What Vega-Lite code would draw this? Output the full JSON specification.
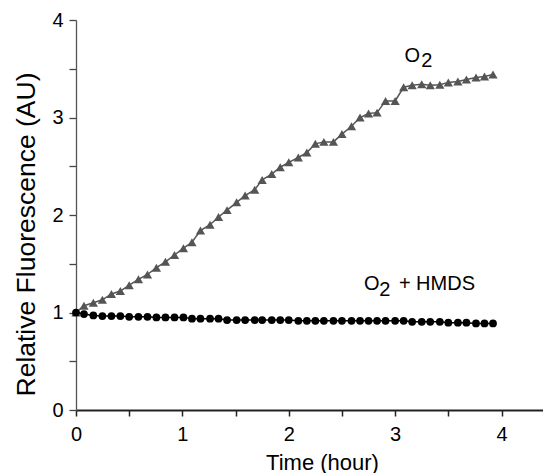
{
  "$schema": "https://vega.github.io/schema/vega-lite/v6.json",
  "width": 467,
  "height": 390,
  "autosize": "none",
  "padding": {"left": 76, "top": 20, "right": 0, "bottom": 63},
  "background": "white",
  "config": {
    "view": {"stroke": null},
    "font": "Liberation Sans"
  },
  "datasets": {
    "series": [
      {"series": "O2", "t": 0.0, "v": 1.0},
      {"series": "O2", "t": 0.075, "v": 1.07},
      {"series": "O2", "t": 0.163, "v": 1.10},
      {"series": "O2", "t": 0.248, "v": 1.13},
      {"series": "O2", "t": 0.333, "v": 1.19},
      {"series": "O2", "t": 0.417, "v": 1.22},
      {"series": "O2", "t": 0.50, "v": 1.28},
      {"series": "O2", "t": 0.587, "v": 1.34},
      {"series": "O2", "t": 0.672, "v": 1.39},
      {"series": "O2", "t": 0.756, "v": 1.46},
      {"series": "O2", "t": 0.841, "v": 1.52},
      {"series": "O2", "t": 0.926, "v": 1.59},
      {"series": "O2", "t": 1.01, "v": 1.66},
      {"series": "O2", "t": 1.09, "v": 1.72},
      {"series": "O2", "t": 1.17, "v": 1.84},
      {"series": "O2", "t": 1.26, "v": 1.90},
      {"series": "O2", "t": 1.34, "v": 1.98},
      {"series": "O2", "t": 1.42, "v": 2.05},
      {"series": "O2", "t": 1.51, "v": 2.13},
      {"series": "O2", "t": 1.59, "v": 2.20},
      {"series": "O2", "t": 1.68, "v": 2.26},
      {"series": "O2", "t": 1.75, "v": 2.36},
      {"series": "O2", "t": 1.84, "v": 2.42},
      {"series": "O2", "t": 1.92, "v": 2.49},
      {"series": "O2", "t": 2.00, "v": 2.54},
      {"series": "O2", "t": 2.09, "v": 2.59},
      {"series": "O2", "t": 2.17, "v": 2.64},
      {"series": "O2", "t": 2.25, "v": 2.73},
      {"series": "O2", "t": 2.33, "v": 2.75},
      {"series": "O2", "t": 2.42, "v": 2.75},
      {"series": "O2", "t": 2.50, "v": 2.83},
      {"series": "O2", "t": 2.59, "v": 2.91},
      {"series": "O2", "t": 2.67, "v": 3.00},
      {"series": "O2", "t": 2.75, "v": 3.04},
      {"series": "O2", "t": 2.83, "v": 3.05},
      {"series": "O2", "t": 2.91, "v": 3.17},
      {"series": "O2", "t": 3.00, "v": 3.17},
      {"series": "O2", "t": 3.08, "v": 3.31},
      {"series": "O2", "t": 3.16, "v": 3.33},
      {"series": "O2", "t": 3.25, "v": 3.34},
      {"series": "O2", "t": 3.33, "v": 3.33},
      {"series": "O2", "t": 3.42, "v": 3.335},
      {"series": "O2", "t": 3.50, "v": 3.36},
      {"series": "O2", "t": 3.59, "v": 3.37},
      {"series": "O2", "t": 3.67, "v": 3.39},
      {"series": "O2", "t": 3.76, "v": 3.41},
      {"series": "O2", "t": 3.84, "v": 3.42},
      {"series": "O2", "t": 3.92, "v": 3.44},
      {"series": "O2 + HMDS", "t": 0.0, "v": 1.0},
      {"series": "O2 + HMDS", "t": 0.075, "v": 0.984},
      {"series": "O2 + HMDS", "t": 0.163, "v": 0.97},
      {"series": "O2 + HMDS", "t": 0.248, "v": 0.963},
      {"series": "O2 + HMDS", "t": 0.333, "v": 0.963},
      {"series": "O2 + HMDS", "t": 0.417, "v": 0.963},
      {"series": "O2 + HMDS", "t": 0.50, "v": 0.956},
      {"series": "O2 + HMDS", "t": 0.587, "v": 0.956},
      {"series": "O2 + HMDS", "t": 0.672, "v": 0.956},
      {"series": "O2 + HMDS", "t": 0.756, "v": 0.95},
      {"series": "O2 + HMDS", "t": 0.841, "v": 0.95},
      {"series": "O2 + HMDS", "t": 0.926, "v": 0.95},
      {"series": "O2 + HMDS", "t": 1.01, "v": 0.95},
      {"series": "O2 + HMDS", "t": 1.09, "v": 0.936},
      {"series": "O2 + HMDS", "t": 1.17, "v": 0.936},
      {"series": "O2 + HMDS", "t": 1.26, "v": 0.936},
      {"series": "O2 + HMDS", "t": 1.34, "v": 0.936},
      {"series": "O2 + HMDS", "t": 1.42, "v": 0.922},
      {"series": "O2 + HMDS", "t": 1.51, "v": 0.922},
      {"series": "O2 + HMDS", "t": 1.59, "v": 0.922},
      {"series": "O2 + HMDS", "t": 1.68, "v": 0.922},
      {"series": "O2 + HMDS", "t": 1.75, "v": 0.922},
      {"series": "O2 + HMDS", "t": 1.84, "v": 0.922},
      {"series": "O2 + HMDS", "t": 1.92, "v": 0.922},
      {"series": "O2 + HMDS", "t": 2.00, "v": 0.922},
      {"series": "O2 + HMDS", "t": 2.09, "v": 0.915},
      {"series": "O2 + HMDS", "t": 2.17, "v": 0.915},
      {"series": "O2 + HMDS", "t": 2.25, "v": 0.915},
      {"series": "O2 + HMDS", "t": 2.33, "v": 0.915},
      {"series": "O2 + HMDS", "t": 2.42, "v": 0.915},
      {"series": "O2 + HMDS", "t": 2.50, "v": 0.915},
      {"series": "O2 + HMDS", "t": 2.59, "v": 0.915},
      {"series": "O2 + HMDS", "t": 2.67, "v": 0.915},
      {"series": "O2 + HMDS", "t": 2.75, "v": 0.915},
      {"series": "O2 + HMDS", "t": 2.83, "v": 0.915},
      {"series": "O2 + HMDS", "t": 2.91, "v": 0.915},
      {"series": "O2 + HMDS", "t": 3.00, "v": 0.915},
      {"series": "O2 + HMDS", "t": 3.08, "v": 0.915},
      {"series": "O2 + HMDS", "t": 3.16, "v": 0.905},
      {"series": "O2 + HMDS", "t": 3.25, "v": 0.905},
      {"series": "O2 + HMDS", "t": 3.33, "v": 0.905},
      {"series": "O2 + HMDS", "t": 3.42, "v": 0.905},
      {"series": "O2 + HMDS", "t": 3.50, "v": 0.895},
      {"series": "O2 + HMDS", "t": 3.59, "v": 0.895},
      {"series": "O2 + HMDS", "t": 3.67, "v": 0.895},
      {"series": "O2 + HMDS", "t": 3.76, "v": 0.888},
      {"series": "O2 + HMDS", "t": 3.84, "v": 0.888},
      {"series": "O2 + HMDS", "t": 3.92, "v": 0.888}
    ],
    "labels": [
      {"label": "O", "t": 3.161, "v": 3.572},
      {"label": "2", "t": 3.297, "v": 3.521},
      {"label": "O", "t": 2.78, "v": 1.231},
      {"label": "2", "t": 2.904, "v": 1.172},
      {"label": "+ HMDS", "t": 3.393, "v": 1.231}
    ]
  },
  "encoding": {
    "x": {
      "field": "t",
      "type": "quantitative",
      "scale": {"domain": [0, 4.39], "nice": false, "zero": false},
      "axis": {
        "title": "Time (hour)",
        "values": [0, 0.5, 1, 1.5, 2, 2.5, 3, 3.5, 4],
        "labelExpr": "datum.value % 1 === 0 ? format(datum.value, 'd') : ''",
        "tickSize": 6,
        "tickColor": "#222222",
        "tickWidth": 1.5,
        "domainColor": "#222222",
        "domainWidth": 1.8,
        "labelFontSize": 20,
        "labelColor": "black",
        "labelPadding": 8,
        "labelFlush": false,
        "labelOverlap": false,
        "grid": false,
        "titleFontSize": 22,
        "titleFontWeight": "normal",
        "titleColor": "black",
        "titleX": 246,
        "titleY": 59,
        "titleBaseline": "alphabetic",
        "titleAlign": "center",
        "encode": {
          "ticks": {"update": {"y2": {"signal": "datum.value % 1 ? 4 : 6"}}}
        }
      }
    },
    "y": {
      "field": "v",
      "type": "quantitative",
      "scale": {"domain": [0, 4], "nice": false},
      "axis": {
        "title": "Relative Fluorescence (AU)",
        "values": [0, 0.5, 1, 1.5, 2, 2.5, 3, 3.5, 4],
        "labelExpr": "datum.value % 1 === 0 ? format(datum.value, 'd') : ''",
        "tickSize": 7,
        "tickColor": "#444444",
        "tickWidth": 1.3,
        "domainColor": "#555555",
        "domainWidth": 1.3,
        "labelFontSize": 20,
        "labelColor": "black",
        "labelPadding": 6,
        "labelFlush": false,
        "labelOverlap": false,
        "grid": false,
        "titleFontSize": 26.5,
        "titleFontWeight": "normal",
        "titleColor": "black",
        "titleAngle": -90,
        "titleX": -42,
        "titleY": 214,
        "titleBaseline": "alphabetic",
        "titleAlign": "center",
        "encode": {
          "ticks": {"update": {"x2": {"signal": "datum.value % 1 ? -4 : -7"}}}
        }
      }
    }
  },
  "layer": [
    {
      "data": {"name": "series"},
      "transform": [{"filter": "datum.series === 'O2'"}],
      "mark": {"type": "line", "color": "#555555", "strokeWidth": 1.5},
      "encoding": {}
    },
    {
      "data": {"name": "series"},
      "transform": [{"filter": "datum.series === 'O2'"}],
      "mark": {"type": "point", "shape": "triangle-up", "filled": true, "color": "#555555", "size": 85, "opacity": 1}
    },
    {
      "data": {"name": "series"},
      "transform": [{"filter": "datum.series === 'O2 + HMDS'"}],
      "mark": {"type": "line", "color": "#000000", "strokeWidth": 1.5},
      "encoding": {}
    },
    {
      "data": {"name": "series"},
      "transform": [{"filter": "datum.series === 'O2 + HMDS'"}],
      "mark": {"type": "point", "shape": "circle", "filled": true, "color": "#000000", "size": 60, "opacity": 1}
    },
    {
      "data": {"name": "labels"},
      "mark": {"type": "text", "fontSize": 20, "color": "black", "align": "center", "baseline": "alphabetic", "font": "Liberation Sans"},
      "encoding": {"text": {"field": "label"}}
    }
  ]
}
